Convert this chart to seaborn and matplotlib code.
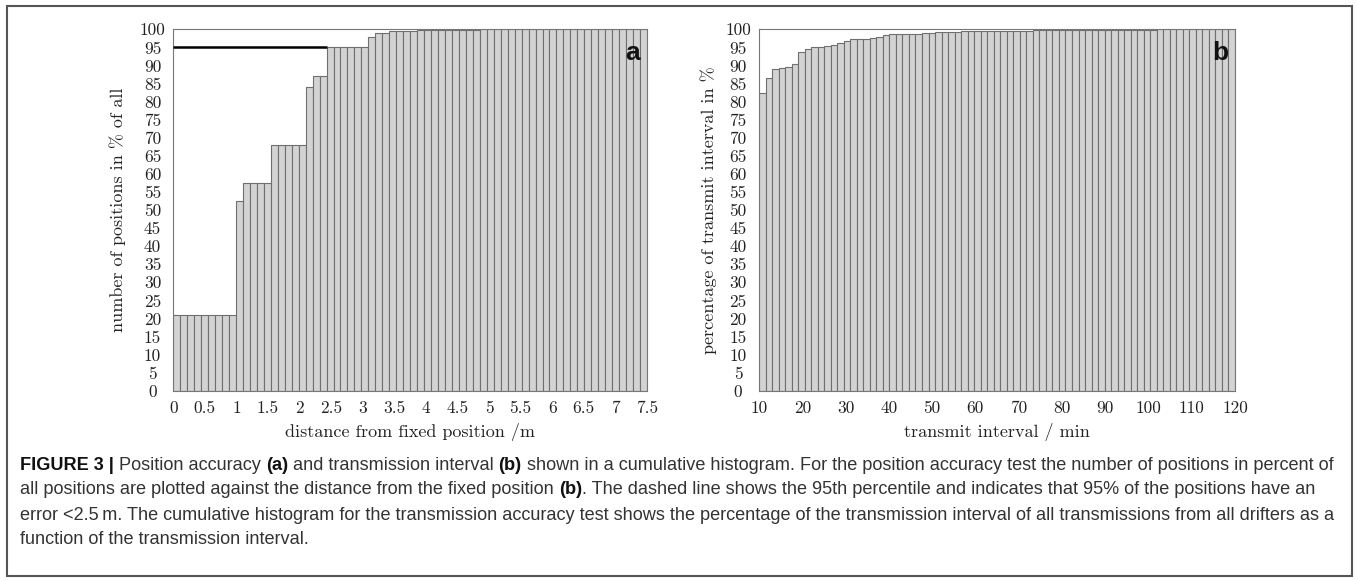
import numpy as np
import pandas as pd
import matplotlib
matplotlib.use("Agg")
import matplotlib.pyplot as plt
import seaborn as sns
from matplotlib import font_manager
from matplotlib.patches import Rectangle

# Data
# =========================
# (a) cumulative % of positions, 68 bins between 0 and 7.5 m
dist_pct = [21, 21, 21, 21, 21, 21, 21, 21, 21,
            52.5,
            57.5, 57.5, 57.5, 57.5,
            68, 68, 68, 68, 68,
            84,
            87, 87,
            95, 95, 95, 95, 95, 95,
            97.8,
            99.0, 99.0,
            99.4, 99.4, 99.4, 99.4,
            99.7, 99.7, 99.7, 99.7, 99.7, 99.7, 99.7, 99.7, 99.7,
            100, 100, 100, 100, 100, 100, 100, 100, 100, 100, 100, 100,
            100, 100, 100, 100, 100, 100, 100, 100, 100, 100, 100, 100]
dist_range = (0, 7.5)
dist_ticks = ["0", "0.5", "1", "1.5", "2", "2.5", "3", "3.5", "4", "4.5",
              "5", "5.5", "6", "6.5", "7", "7.5"]
percentile_level = 95

# (b) cumulative % of transmit intervals, 73 bins between 10 and 120 min
interval_pct = [82.5, 86.5, 89.0, 89.3, 89.6, 90.3, 93.8, 94.5, 95.0, 95.1,
                95.3, 95.6, 96.1, 96.8, 97.2, 97.3, 97.4, 97.7, 97.8, 98.4,
                98.6, 98.7, 98.7, 98.7, 98.8, 98.9, 99.1,
                99.2, 99.2, 99.2, 99.2,
                99.4, 99.4, 99.4,
                99.5, 99.5, 99.5, 99.5,
                99.6, 99.6, 99.6, 99.6,
                99.7, 99.7, 99.7, 99.7,
                99.8, 99.8, 99.8, 99.8, 99.8, 99.8, 99.8,
                99.9, 99.9, 99.9, 99.9, 99.9, 99.9, 99.9, 99.9,
                100, 100, 100, 100, 100, 100, 100, 100, 100, 100, 100, 100]
interval_range = (10, 120)
interval_ticks = ["10", "20", "30", "40", "50", "60", "70", "80", "90",
                  "100", "110", "120"]

pct_ticks = [str(v) for v in range(0, 101, 5)]

caption_lines = [
    [("FIGURE 3 |", True), ("Position accuracy", False), ("(a)", True),
     ("and transmission interval", False), ("(b)", True),
     ("shown in a cumulative histogram. For the position accuracy test the number of positions in percent of", False)],
    [("all positions are plotted against the distance from the fixed position", False), ("(b)", True),
     (". The dashed line shows the 95th percentile and indicates that 95% of the positions have an", False)],
    [("error <2.5\u2009m. The cumulative histogram for the transmission accuracy test shows the percentage of the transmission interval of all transmissions from all drifters as a", False)],
    [("function of the transmission interval.", False)],
]
# no space before these segments
no_space_before = {". The dashed line shows the 95th percentile and indicates that 95% of the positions have an"}

# Style
# =====
sns.set_style("white")
serif = ["cmr10", "DejaVu Serif"]
plt.rcParams["axes.formatter.use_mathtext"] = True
plt.rcParams["mathtext.fontset"] = "cm"

names = {f.name for f in font_manager.fontManager.ttflist}
cap_font = "Liberation Sans Narrow" if "Liberation Sans Narrow" in names else "Liberation Sans"

W, H = 1358, 581
fig = plt.figure(figsize=(W / 100, H / 100), dpi=100)

bar_face = "#d3d3d3"
bar_edge = "#6f6f6f"
tick_color = "#222222"


def px_axes(left, right, top, bottom):
    return fig.add_axes([left / W, 1 - bottom / H, (right - left) / W, (bottom - top) / H])


def draw_panel(ax, values, xr, xticks, xlabel, ylabel, letter, ylab_x):
    edges = np.linspace(xr[0], xr[1], len(values) + 1)
    df = pd.DataFrame({"x": (edges[:-1] + edges[1:]) / 2, "pct": values})
    sns.histplot(data=df, x="x", weights="pct", bins=list(edges), ax=ax,
                 color=bar_face, edgecolor=bar_edge, linewidth=0.8, alpha=1)
    ax.set_xlim(xr)
    ax.set_ylim(0, 100)
    ax.set_xticks([float(t) for t in xticks])
    ax.set_xticklabels(xticks, family=serif, fontsize=12.5, color=tick_color)
    ax.set_yticks(range(0, 101, 5))
    ax.set_yticklabels(pct_ticks, family=serif, fontsize=12.5, color=tick_color, ha="center")
    ax.tick_params(axis="x", length=0, pad=7.5)
    ax.tick_params(axis="y", length=0, pad=15)
    ax.set_xlabel(xlabel, family=serif, fontsize=13, color=tick_color)
    ax.set_ylabel(ylabel, family=serif, fontsize=13, color=tick_color)
    ax.xaxis.set_label_coords(0.5, -0.09)
    ax.yaxis.set_label_coords(ylab_x, 0.5)
    for s in ax.spines.values():
        s.set_color("#777777")
        s.set_linewidth(0.8)
    ax.text(0.985, 0.935, letter, transform=ax.transAxes, ha="right", va="center",
            fontsize=19, fontweight="bold", family="Liberation Sans", color="#111111")
    return edges


# 1. Panel a - position accuracy
# ==============================
ax_a = px_axes(173.3, 647, 29.3, 390.7)
edges_a = draw_panel(ax_a, dist_pct, dist_range, dist_ticks,
                     "distance from fixed position /m",
                     "number of positions in % of all", "a", -0.10)
first_95 = next(i for i, v in enumerate(dist_pct) if v >= percentile_level)
ax_a.hlines(percentile_level, edges_a[0], edges_a[first_95], color="black", linewidth=1.8, zorder=5)

# 2. Panel b - transmission interval
# ==================================
ax_b = px_axes(759, 1235, 29.3, 390.7)
draw_panel(ax_b, interval_pct, interval_range, interval_ticks,
           "transmit interval / min",
           "percentage of transmit interval in %", "b", -0.088)

# 3. Frame and caption
# ====================
fig.patches.append(Rectangle((7 / W, 1 - 576 / H), (1352 - 7) / W, (576 - 6) / H,
                             transform=fig.transFigure, fill=False,
                             edgecolor="#555555", linewidth=1.5))

renderer = fig.canvas.get_renderer()


def text_width(s, size, bold):
    t = fig.text(0, 0, s, fontsize=size, family=cap_font,
                 fontweight="bold" if bold else "normal")
    w = t.get_window_extent(renderer).width
    t.remove()
    return w


def line_width(parts, size):
    sp = text_width("x x", size, False) - text_width("xx", size, False)
    total = 0
    for k, (s, b) in enumerate(parts):
        if k > 0 and s not in no_space_before:
            total += sp
        total += text_width(s, size, b)
    return total


cap_x0, cap_x1 = 20, 1337
cap_size = 10 * (cap_x1 - cap_x0) / line_width(caption_lines[0], 10)
space_w = text_width("x x", cap_size, False) - text_width("xx", cap_size, False)
cap_y = [465, 490, 515, 540]

for y, parts in zip(cap_y, caption_lines):
    x = cap_x0
    for k, (s, b) in enumerate(parts):
        if k > 0 and s not in no_space_before:
            x += space_w
        fig.text(x / W, 1 - y / H, s, fontsize=cap_size, family=cap_font,
                 fontweight="bold" if b else "normal",
                 color="#111111" if b else "#333333", ha="left", va="center")
        x += text_width(s, cap_size, b)

fig.savefig("out.png", dpi=100)
